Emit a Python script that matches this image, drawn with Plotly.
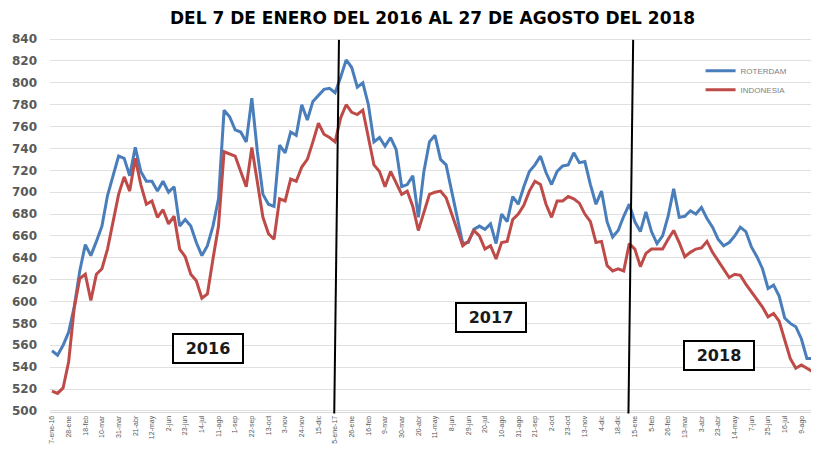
import plotly.graph_objects as go

tick_labels = ["7-ene-16", "28-ene", "18-feb", "10-mar", "31-mar", "21-abr", "12-may", "2-jun",
               "23-jun", "14-jul", "11-ago", "1-sep", "22-sep", "13-oct", "3-nov", "24-nov",
               "15-dic", "5-ene-17", "26-ene", "16-feb", "9-mar", "30-mar", "20-abr", "11-may",
               "8-jun", "29-jun", "20-jul", "10-ago", "31-ago", "21-sep", "2-oct", "23-oct",
               "13-nov", "4-dic", "18-dic", "15-ene", "5-feb", "26-feb", "13-mar", "3-abr",
               "23-abr", "14-may", "7-jun", "25-jun", "16-jul", "9-ago", "27-ago"]

roterdam = [555, 551, 560, 572, 595, 628, 652, 642, 655, 669,
            697, 714, 733, 731, 715, 741, 719, 710, 710, 701,
            710, 700, 705, 669, 675, 669, 654, 642, 651, 669,
            694, 775, 769, 757, 755, 746, 786, 737, 698, 689,
            687, 743, 736, 755, 752, 780, 766, 783, 789, 794,
            795, 791, 805, 821, 814, 796, 800, 780, 746, 750,
            742, 750, 739, 705, 707, 715, 677, 719, 746, 752,
            730, 725, 701, 677, 653, 654, 666, 669, 666,
            671, 653, 680, 673, 696, 689, 705, 719, 725, 733,
            718, 707, 719, 724, 725, 736, 727, 728, 707, 689,
            701, 673, 659, 665, 678, 689, 673, 664, 682, 664,
            653, 660, 678, 703, 677, 678, 683, 680, 686, 676,
            668, 657, 651, 654, 660, 668, 664, 650, 641,
            630, 612, 615, 605, 585, 580, 577, 566, 548, 548,
            548]

indonesia = [518, 516, 521, 545, 594, 621, 625, 601, 625, 630,
             648, 672, 698, 714, 701, 731, 707, 689, 692, 677,
             684, 671, 678, 648, 641, 625, 619, 603, 607, 639,
             669, 737, 735, 733, 719, 705, 741, 710, 677, 662,
             657, 694, 692, 712, 710, 723, 730, 746, 763, 753,
             750, 746, 768, 780, 773, 771, 775, 750, 725, 719,
             705, 719, 709, 698, 701, 687, 665, 681, 698, 700,
             701, 695, 680, 665, 651, 655, 665, 660, 648,
             651, 639, 654, 655, 675, 680, 688, 701, 710, 707,
             689, 677, 692, 692, 696, 694, 690, 680, 673, 654,
             655, 633, 628, 630, 628, 653, 648, 632, 644, 648,
             648, 648, 657, 665, 654, 641, 645, 648, 649, 655,
             645, 637, 630, 622, 625, 624, 616, 609, 603,
             595, 586, 589, 582, 564, 548, 539, 542, 539, 536,
             536]

week_idx = list(range(len(roterdam)))
year_breaks = [51, 104]
year_boxes = [("2016", 28.1, 557), ("2017", 79.1, 585), ("2018", 120.2, 551)]

BLUE = "#4A7EBB"
RED = "#BE4B48"
FONT = "DejaVu Sans, Verdana, sans-serif"

fig = go.Figure()
fig.add_trace(go.Scatter(x=week_idx, y=roterdam, mode="lines", name="ROTERDAM",
                         line=dict(color=BLUE, width=3)))
fig.add_trace(go.Scatter(x=week_idx, y=indonesia, mode="lines", name="INDONESIA",
                         line=dict(color=RED, width=3)))

for b in year_breaks:
    fig.add_shape(type="line", xref="x", yref="paper", x0=b - 0.15, x1=b + 0.7,
                  y0=-0.004, y1=0.995, line=dict(color="black", width=2), layer="above")

for txt, xi, yv in year_boxes:
    fig.add_annotation(x=xi, y=yv, xref="x", yref="y", text="<b>" + txt + "</b>",
                       showarrow=False, font=dict(family=FONT, size=16, color="#1a1a1a"),
                       bordercolor="black", borderwidth=2, width=68, height=27,
                       bgcolor="white", borderpad=0)

fig.add_annotation(xref="paper", yref="paper", x=0.497, y=1.0548, xanchor="center", yanchor="middle",
                   text="<b>DEL 7 DE ENERO DEL 2016 AL 27 DE AGOSTO DEL 2018</b>", showarrow=False,
                   height=18, font=dict(family=FONT, size=17, color="black"))

fig.update_layout(
    width=811, height=445,
    margin=dict(l=42, r=0, t=30, b=41),
    paper_bgcolor="white", plot_bgcolor="white",
    font=dict(family="Liberation Sans, Arial", color="#595959"),
    showlegend=True,
    legend=dict(x=0.846, y=0.951, xanchor="left", yanchor="top", bgcolor="rgba(0,0,0,0)",
                font=dict(size=8, color="#7f7f7f"), itemwidth=30, tracegroupgap=0),
    xaxis=dict(range=[-0.36, 138.18], tickmode="array", tickvals=week_idx[::3], ticktext=tick_labels,
               tickangle=-90, tickfont=dict(size=7, color="#595959"), showgrid=False,
               showline=True, linecolor="#D9D9D9", linewidth=1, ticks="", zeroline=False),
    yaxis=dict(range=[499, 841], tickmode="array", tickvals=list(range(500, 841, 20)),
               tickfont=dict(size=12, color="#595959", family=FONT, weight="bold"),
               showgrid=True, gridcolor="#E0E0E0", gridwidth=1, zeroline=False, ticks="",
               ticklabelstandoff=12),
)

fig.write_html("out.html")
